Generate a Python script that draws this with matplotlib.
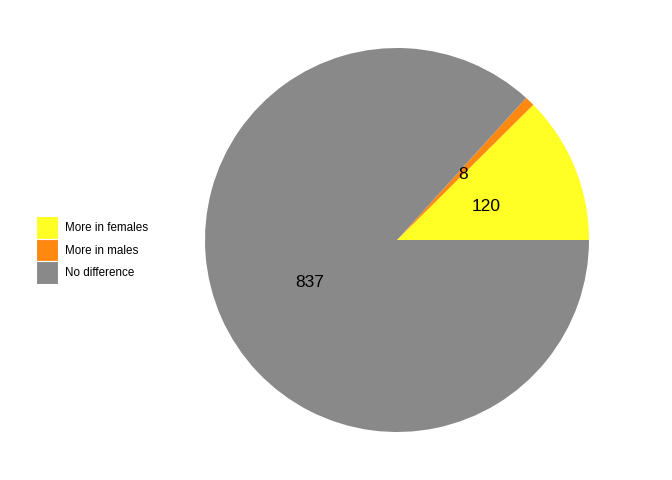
import matplotlib
matplotlib.use("Agg")
import matplotlib.pyplot as plt
import matplotlib.transforms as mtransforms
from matplotlib.patches import Patch

plt.rcParams['font.family'] = ['Liberation Sans', 'DejaVu Sans']

categories = ["More in females", "More in males", "No difference"]
counts = [120, 8, 837]
colors = ["#ffff26", "#ff8811", "#898989"]

fig = plt.figure(figsize=(6.72, 4.8), dpi=100)
ax = fig.add_axes([205 / 672, 48 / 480, 384 / 672, 384 / 480])
wedges, texts = ax.pie(counts, colors=colors, startangle=0, counterclock=True,
                       labels=[str(c) for c in counts], labeldistance=0.5,
                       textprops=dict(fontsize=12.5, ha="center", va="center_baseline"))
# nudge the count labels down a touch
for t in texts:
    t.set_transform(mtransforms.offset_copy(t.get_transform(), fig=fig, x=0, y=-2, units="dots"))
ax.set_aspect("equal")
ax.set_xlim(-1, 1)
ax.set_ylim(-1, 1)

handles = [Patch(facecolor=c, edgecolor="white", linewidth=0.8) for c in colors]
fig.legend(handles, categories, loc="center left", bbox_to_anchor=(36 / 672, 1 - 250 / 480),
           frameon=False, fontsize=8.4, handlelength=1.9, handleheight=2.65,
           labelspacing=0.0, handletextpad=0.6, borderpad=0, borderaxespad=0)

fig.savefig("out.png", dpi=100)
